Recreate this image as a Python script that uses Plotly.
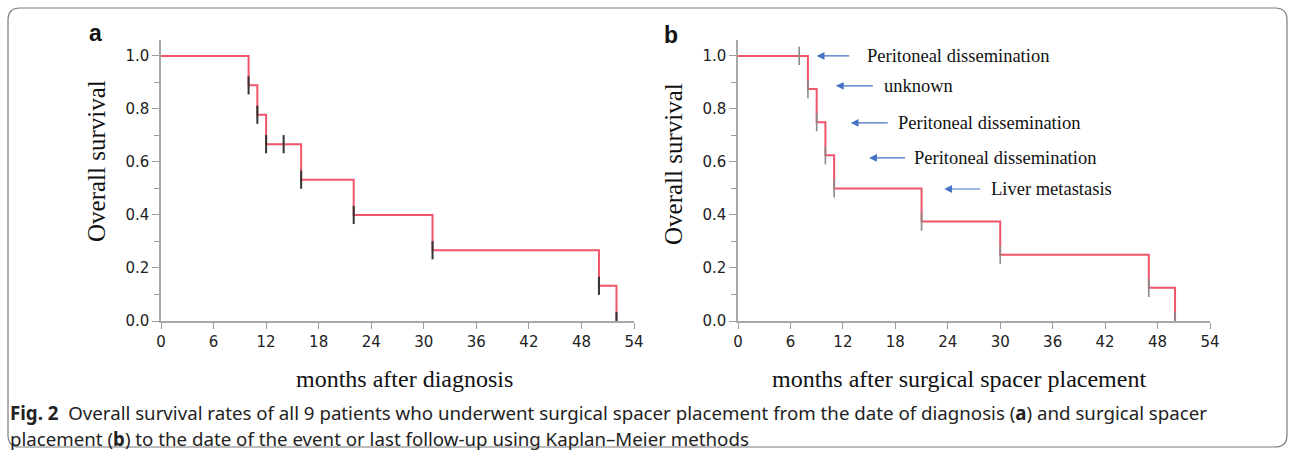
import plotly.graph_objects as go

# ---------------- data ----------------
# Panel a: months after diagnosis
a_step_months = [0, 10, 11, 12, 16, 22, 31, 50, 52]
a_step_surv = [1.0, 0.889, 0.778, 0.667, 0.533, 0.400, 0.267, 0.133, 0.0]
a_mark_months = [10, 11, 12, 14, 16, 22, 31, 50, 52]
a_mark_surv = [0.889, 0.778, 0.667, 0.667, 0.533, 0.400, 0.267, 0.133, 0.0]

# Panel b: months after surgical spacer placement
b_step_months = [0, 8, 9, 10, 11, 21, 30, 47, 50]
b_step_surv = [1.0, 0.875, 0.750, 0.625, 0.500, 0.375, 0.250, 0.125, 0.0]
b_mark_months = [7, 8, 9, 10, 11, 21, 30, 47, 50]
b_mark_surv = [1.0, 0.875, 0.750, 0.625, 0.500, 0.375, 0.250, 0.125, 0.0]

# Panel b annotations (arrow tip month, arrow tail month, level, text start month, label)
b_note_labels = ["Peritoneal dissemination", "unknown", "Peritoneal dissemination",
                 "Peritoneal dissemination", "Liver metastasis"]
b_note_tip = [9.0, 11.2, 12.9, 15.0, 23.6]
b_note_tail = [12.9, 15.6, 17.3, 19.3, 27.9]
b_note_level = [1.0, 0.887, 0.747, 0.615, 0.498]
b_note_text_x = [14.5, 16.5, 18.1, 19.9, 28.7]

x_ticks = [0, 6, 12, 18, 24, 30, 36, 42, 48, 54]

W, H = 1295, 455
def px(x):
    return x / W
def py(y):
    return 1 - y / H

RED = "#F0566A"
SERIF = "Liberation Serif"
SANS = "DejaVu Sans"

fig = go.Figure()

fig.add_trace(go.Scatter(x=a_step_months, y=a_step_surv, mode="lines",
                         line=dict(color=RED, width=2, shape="hv"),
                         xaxis="x", yaxis="y", showlegend=False, hoverinfo="skip"))
fig.add_trace(go.Scatter(x=a_mark_months, y=a_mark_surv, mode="markers",
                         marker=dict(symbol="line-ns", size=13,
                                     line=dict(color="#333333", width=2)),
                         xaxis="x", yaxis="y", showlegend=False, hoverinfo="skip"))
fig.add_trace(go.Scatter(x=b_step_months, y=b_step_surv, mode="lines",
                         line=dict(color=RED, width=2, shape="hv"),
                         xaxis="x2", yaxis="y2", showlegend=False, hoverinfo="skip"))
fig.add_trace(go.Scatter(x=b_mark_months, y=b_mark_surv, mode="markers",
                         marker=dict(symbol="line-ns", size=13,
                                     line=dict(color="#8a8a8a", width=1.6)),
                         xaxis="x2", yaxis="y2", showlegend=False, hoverinfo="skip"))

xcommon = dict(range=[0, 54], tickvals=x_ticks, ticks="outside", ticklen=6,
               tickcolor="#9a9a9a", tickwidth=1.3, showline=True, linecolor="#a8a8a8",
               linewidth=1.5, showgrid=False, zeroline=False, automargin=False,
               tickfont=dict(family=SANS, size=15, color="#222222"))
ycommon = dict(range=[0, 1.06], tick0=0, dtick=0.2, tickformat=".1f", ticks="outside",
               ticklen=7, tickcolor="#9a9a9a", tickwidth=1.3, showline=True,
               linecolor="#a8a8a8", linewidth=1.5, showgrid=False, zeroline=False,
               automargin=False,
               minor=dict(dtick=0.1, ticks="outside", ticklen=5, tickcolor="#9a9a9a",
                          tickwidth=1.3, showgrid=False),
               tickfont=dict(family=SANS, size=15, color="#222222"))

fig.update_layout(
    width=W, height=H, margin=dict(l=0, r=0, t=0, b=0, autoexpand=False),
    paper_bgcolor="white", plot_bgcolor="white",
    xaxis=dict(domain=[px(161), px(634)], anchor="y", **xcommon),
    yaxis=dict(domain=[py(321), py(40)], anchor="x", **ycommon),
    xaxis2=dict(domain=[px(738), px(1210)], anchor="y2", **xcommon),
    yaxis2=dict(domain=[py(321), py(40)], anchor="x2", **ycommon),
)

ann = []
# panel letters
ann.append(dict(x=px(95), y=py(33), xref="paper", yref="paper", text="<b>a</b>",
                showarrow=False, font=dict(family="Liberation Sans", size=23, color="#111"),
                xanchor="center", yanchor="middle"))
ann.append(dict(x=px(671), y=py(35), xref="paper", yref="paper", text="<b>b</b>",
                showarrow=False, font=dict(family="Liberation Sans", size=23, color="#111"),
                xanchor="center", yanchor="middle"))
# axis titles
for xc, txt in [(404, "months after diagnosis"), (959, "months after surgical spacer placement")]:
    ann.append(dict(x=px(xc), y=py(379), xref="paper", yref="paper", text=txt,
                    showarrow=False, font=dict(family=SERIF, size=24, color="#111"),
                    xanchor="center", yanchor="middle"))
for xc, yc in [(96, 161), (673, 164)]:
    ann.append(dict(x=px(xc), y=py(yc), xref="paper", yref="paper", text="Overall survival",
                    textangle=-90, showarrow=False, font=dict(family=SERIF, size=25, color="#111"),
                    xanchor="center", yanchor="middle"))
# panel b arrows and notes
for lab, tip, tail, lev, tx in zip(b_note_labels, b_note_tip, b_note_tail, b_note_level, b_note_text_x):
    ann.append(dict(x=tip, y=lev, ax=tail, ay=lev, xref="x2", yref="y2", axref="x2", ayref="y2",
                    text="", showarrow=True, arrowhead=2, arrowsize=1.3, arrowwidth=1.2,
                    arrowcolor="#4472C4"))
    ann.append(dict(x=tx, y=lev, xref="x2", yref="y2", text=lab, showarrow=False,
                    xanchor="left", yanchor="middle",
                    font=dict(family=SERIF, size=18.5, color="#111")))
# caption
ann.append(dict(x=px(8), y=py(412), xref="paper", yref="paper",
                text="<b>Fig. 2</b>  Overall survival rates of all 9 patients who underwent surgical spacer placement from the date of diagnosis (<b>a</b>) and surgical spacer",
                showarrow=False, xanchor="left", yanchor="middle",
                font=dict(family="Noto Sans", size=18.7, color="#222")))
ann.append(dict(x=px(8), y=py(438), xref="paper", yref="paper",
                text="placement (<b>b</b>) to the date of the event or last follow-up using Kaplan\u2013Meier methods",
                showarrow=False, xanchor="left", yanchor="middle",
                font=dict(family="Noto Sans", size=18.7, color="#222")))
fig.update_layout(annotations=ann)

# rounded frame
x0, x1, y0, y1 = px(8), px(1287), py(447), py(8)
rx, ry = 12 / W, 12 / H
path = (f"M {x0+rx},{y1} L {x1-rx},{y1} Q {x1},{y1} {x1},{y1-ry} "
        f"L {x1},{y0+ry} Q {x1},{y0} {x1-rx},{y0} L {x0+rx},{y0} "
        f"Q {x0},{y0} {x0},{y0+ry} L {x0},{y1-ry} Q {x0},{y1} {x0+rx},{y1} Z")
fig.add_shape(type="path", path=path, xref="paper", yref="paper",
              line=dict(color="#7a7a7a", width=1.2), layer="below")

fig.write_html(
    "out.html",
    config={"displayModeBar": False, "responsive": False},
    post_script=("document.body.style.margin='0px';"
                 "document.body.style.overflow='hidden';"
                 "document.documentElement.style.overflow='hidden';"),
)
